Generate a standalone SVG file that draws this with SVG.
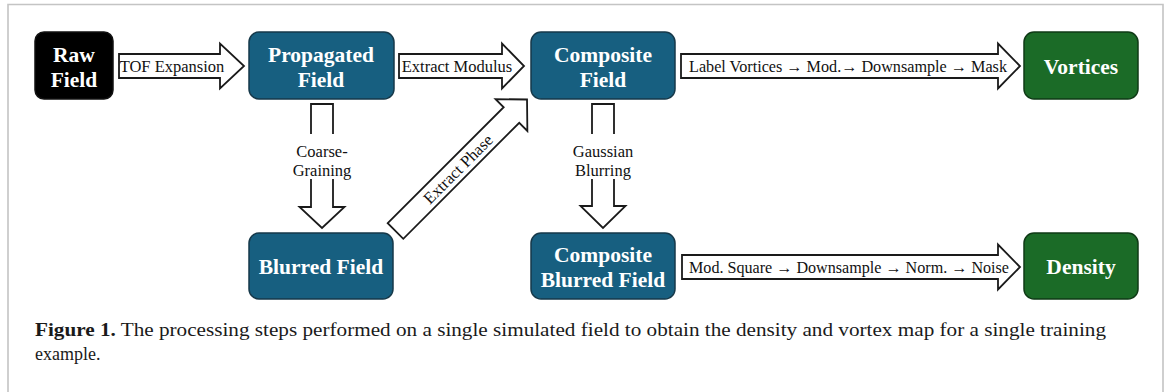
<svg xmlns="http://www.w3.org/2000/svg" width="1167" height="392" viewBox="0 0 1167 392">
  <style>
    .frame { fill: none; stroke: #c4c4c4; stroke-width: 1.6; }
    .node-raw { fill: #000000; stroke: #111111; stroke-width: 1.5; }
    .node-blue { fill: #175f80; stroke: #16394a; stroke-width: 1.5; }
    .node-green { fill: #1b6b27; stroke: #0f3a16; stroke-width: 1.5; }
    .node-text { font-family: "Liberation Serif", "Times New Roman", serif; font-weight: bold; font-size: 21.5px; fill: #ffffff; text-anchor: middle; }
    .arrow { fill: #ffffff; stroke: #1a1a1a; stroke-width: 1.8; stroke-linejoin: miter; }
    .label { font-family: "Liberation Serif", "Times New Roman", serif; font-size: 16.5px; fill: #111111; text-anchor: middle; }
    .caption { font-family: "Liberation Serif", "Times New Roman", serif; font-size: 18px; fill: #1a1a1a; }
  </style>

  <!-- page frame -->
  <path class="frame" d="M8,392 V4.5 H1163 V392"/>

  <!-- nodes -->
  <g id="raw-field">
    <rect class="node-raw" x="35" y="32" width="78" height="67" rx="9"/>
    <text class="node-text" x="74" y="62">Raw</text>
    <text class="node-text" x="74" y="87">Field</text>
  </g>
  <g id="propagated-field">
    <rect class="node-blue" x="249" y="32" width="145" height="67" rx="10"/>
    <text class="node-text" x="321" y="62">Propagated</text>
    <text class="node-text" x="321" y="87">Field</text>
  </g>
  <g id="composite-field">
    <rect class="node-blue" x="531" y="32" width="144" height="67" rx="10"/>
    <text class="node-text" x="603" y="62">Composite</text>
    <text class="node-text" x="603" y="87">Field</text>
  </g>
  <g id="vortices">
    <rect class="node-green" x="1024" y="32" width="114" height="67" rx="10"/>
    <text class="node-text" x="1081" y="74">Vortices</text>
  </g>
  <g id="blurred-field">
    <rect class="node-blue" x="249" y="233" width="144" height="66" rx="10"/>
    <text class="node-text" x="321" y="274">Blurred Field</text>
  </g>
  <g id="composite-blurred-field">
    <rect class="node-blue" x="531" y="233" width="144" height="66" rx="10"/>
    <text class="node-text" x="603" y="262">Composite</text>
    <text class="node-text" x="603" y="287">Blurred Field</text>
  </g>
  <g id="density">
    <rect class="node-green" x="1024" y="233" width="114" height="66" rx="10"/>
    <text class="node-text" x="1081" y="274">Density</text>
  </g>

  <!-- connectors: block arrows with their labels -->
  <g id="connectors">
    <!-- Raw Field -> Propagated Field -->
    <polygon class="arrow" points="119,54 220,54 220,43.5 244,66 220,88.5 220,78 119,78"/>
    <text class="label" x="172" y="72">TOF Expansion</text>

    <!-- Propagated Field -> Composite Field -->
    <polygon class="arrow" points="399,54 502,54 502,43.5 524,66 502,88.5 502,78 399,78"/>
    <text class="label" x="457" y="72">Extract Modulus</text>

    <!-- Composite Field -> Vortices -->
    <polygon class="arrow" points="681,54 998,54 998,43.5 1020,66 998,88.5 998,78 681,78"/>
    <text class="label" x="848" y="72" textLength="318" lengthAdjust="spacingAndGlyphs">Label Vortices → Mod.→ Downsample → Mask</text>

    <!-- Propagated Field -> Blurred Field -->
    <polygon class="arrow" points="311,104 333,104 333,207 344.5,207 322,228 299.5,207 311,207"/>
    <rect x="306" y="134" width="32" height="45" fill="#ffffff"/>
    <text class="label" x="322" y="157">Coarse-</text>
    <text class="label" x="322" y="176">Graining</text>

    <!-- Composite Field -> Composite Blurred Field -->
    <polygon class="arrow" points="592,104 614,104 614,206 625.5,206 603,228 580.5,206 592,206"/>
    <rect x="587" y="134" width="32" height="45" fill="#ffffff"/>
    <text class="label" x="603" y="157">Gaussian</text>
    <text class="label" x="603" y="176">Blurring</text>

    <!-- Blurred Field -> Composite Field (diagonal) -->
    <g transform="translate(395.5,231) rotate(-45)">
      <polygon class="arrow" points="0,-11 164,-11 164,-22.5 186,0 164,22.5 164,11 0,11"/>
      <text class="label" x="88" y="6">Extract Phase</text>
    </g>

    <!-- Composite Blurred Field -> Density -->
    <polygon class="arrow" points="682,255 998,255 998,244.5 1020,267 998,289.5 998,279 682,279"/>
    <text class="label" x="849" y="273" textLength="320" lengthAdjust="spacingAndGlyphs">Mod. Square → Downsample → Norm. → Noise</text>
  </g>

  <!-- caption -->
  <text class="caption" x="35" y="336" textLength="1071" lengthAdjust="spacingAndGlyphs"><tspan font-weight="bold">Figure 1.</tspan> The processing steps performed on a single simulated field to obtain the density and vortex map for a single training</text>
  <text class="caption" x="35" y="360">example.</text>
</svg>
